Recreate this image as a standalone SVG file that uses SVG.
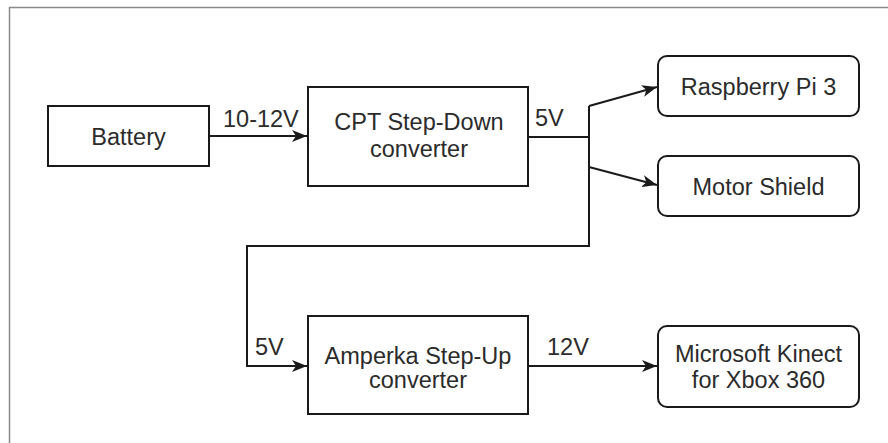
<svg xmlns="http://www.w3.org/2000/svg" width="888" height="443" viewBox="0 0 888 443">
<defs>
<style>
.box{fill:#fff;stroke:#1a1a1a;stroke-width:2}
.t{font-family:"Liberation Sans",Arial,sans-serif;font-size:23.5px;fill:#2b2b2b;text-anchor:middle}
.l{font-family:"Liberation Sans",Arial,sans-serif;font-size:23.5px;fill:#2b2b2b}
.c{fill:none;stroke:#1a1a1a;stroke-width:2}
</style>
<marker id="arr" markerUnits="userSpaceOnUse" markerWidth="16" markerHeight="14" refX="15" refY="7" orient="auto">
<path d="M0,1 L15,7 L0,13 L4,7 z" fill="#1a1a1a"/>
</marker>
</defs>
<rect width="888" height="443" fill="#fff"/>
<path d="M9.5,443 V7.5 H888" fill="none" stroke="#8a8a8a" stroke-width="1.5"/>
<g id="connectors">
<path class="c" d="M209,136 H307" marker-end="url(#arr)"/>
<path class="c" d="M528,137 H589"/>
<path class="c" d="M589,106 V246 H247 V366 H307" marker-end="url(#arr)"/>
<path class="c" d="M589,106 L657,87" marker-end="url(#arr)"/>
<path class="c" d="M589,167 L657,185" marker-end="url(#arr)"/>
<path class="c" d="M528,366 H657" marker-end="url(#arr)"/>
<text class="l" x="223" y="127">10-12V</text>
<text class="l" x="535" y="126">5V</text>
<text class="l" x="255" y="355">5V</text>
<text class="l" x="547" y="355">12V</text>
</g>
<g id="battery">
<rect class="box" x="48" y="106" width="161" height="60"/>
<text class="t" x="128.5" y="145">Battery</text>
</g>
<g id="cpt">
<rect class="box" x="308" y="87" width="220" height="99"/>
<text class="t" x="419" y="130">CPT Step-Down</text>
<text class="t" x="419" y="157">converter</text>
</g>
<g id="raspberry">
<rect class="box" x="658" y="56" width="201" height="60" rx="9"/>
<text class="t" x="758.5" y="95">Raspberry Pi 3</text>
</g>
<g id="motor">
<rect class="box" x="658" y="156" width="201" height="60" rx="9"/>
<text class="t" x="758.5" y="195">Motor Shield</text>
</g>
<g id="amperka">
<rect class="box" x="308" y="316" width="220" height="98"/>
<text class="t" x="418" y="364">Amperka Step-Up</text>
<text class="t" x="418" y="388">converter</text>
</g>
<g id="kinect">
<rect class="box" x="658" y="326" width="201" height="81" rx="9"/>
<text class="t" x="758.5" y="362">Microsoft Kinect</text>
<text class="t" x="758.5" y="388">for Xbox 360</text>
</g>
</svg>
